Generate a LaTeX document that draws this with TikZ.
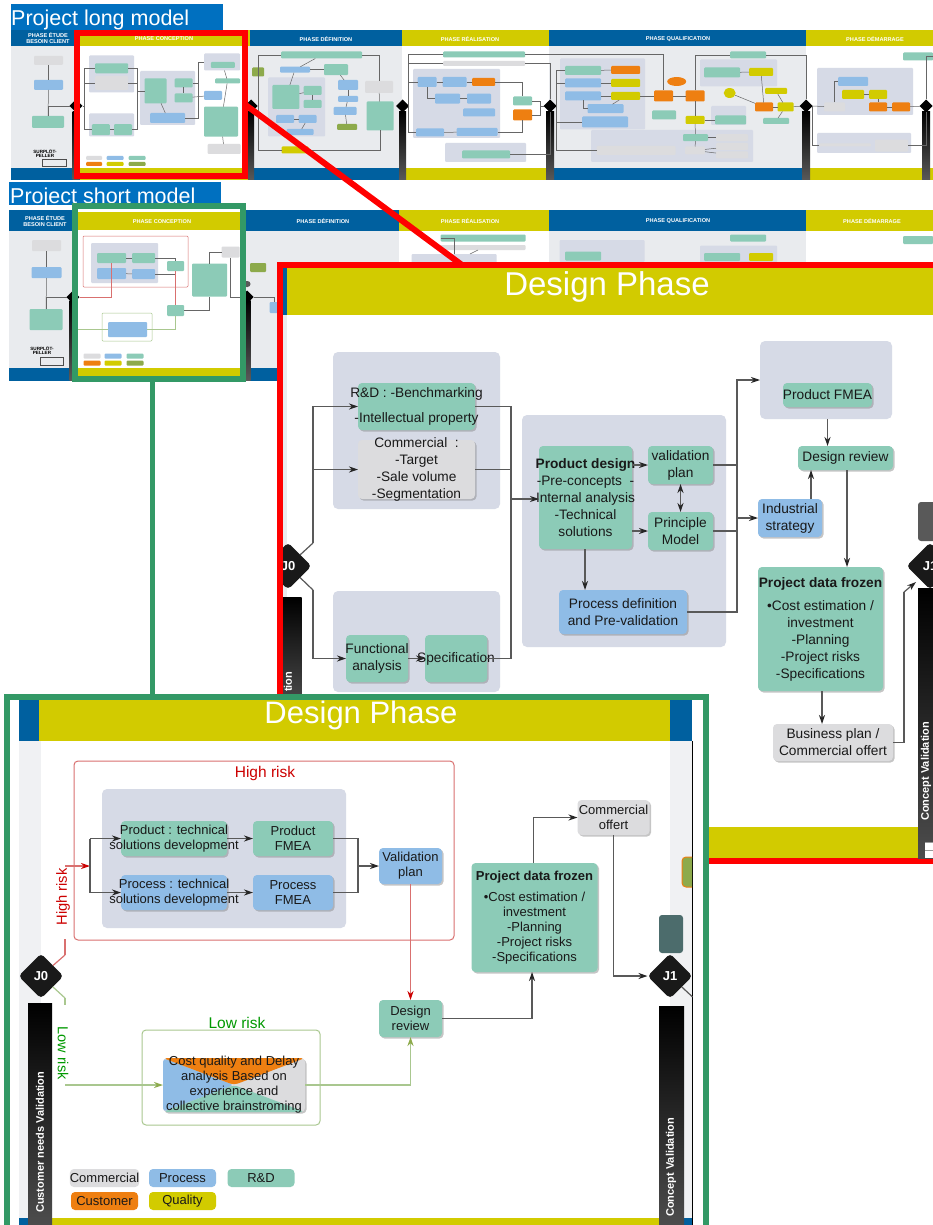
\documentclass[tikz,border=0pt]{standalone}
\usepackage{fontspec}
\setmainfont{Liberation Sans}
\usetikzlibrary{arrows.meta,shadows,shapes.geometric}
\definecolor{rdgreen}{HTML}{8CCBB7}
\definecolor{procblue}{HTML}{8FBCE6}
\definecolor{commgray}{HTML}{DCDCDE}
\definecolor{custorange}{HTML}{EE7F11}
\definecolor{qualyellow}{HTML}{D2CB00}
\definecolor{groupgray}{HTML}{D6DAE6}
\definecolor{phaseblue}{HTML}{00609F}
\definecolor{tabblue}{HTML}{0070C0}
\definecolor{pagegray}{HTML}{E9EBEE}
\definecolor{olive}{HTML}{8DAA4B}
\definecolor{riskred}{HTML}{D9706F}
\definecolor{riskgreen}{HTML}{A9C78F}
\definecolor{framegreen}{HTML}{339966}
\tikzset{
  sz/.style 2 args={minimum width=#1pt,minimum height=#2pt},
  plain/.style={inner sep=0pt,outer sep=0pt,draw=none},
  tgr/.style={plain,rounded corners=1pt,fill=rdgreen},
  tbl/.style={plain,rounded corners=1pt,fill=procblue},
  tgy/.style={plain,rounded corners=1pt,fill=commgray},
  tor/.style={plain,rounded corners=1pt,fill=custorange},
  tye/.style={plain,rounded corners=1pt,fill=qualyellow},
  tol/.style={plain,rounded corners=1pt,fill=olive},
  tgp/.style={plain,rounded corners=1pt,fill=groupgray},
  tj/.style={plain,diamond,aspect=1,fill=black,minimum size=13pt},
  tbar/.style={plain,top color=black,bottom color=gray!70!black},
  tl/.style={draw=black!60,line width=.5pt},
  thead/.style={text=white,font=\fontsize{5.6}{6.4}\bfseries\selectfont,align=center,inner sep=0pt},
  band/.style={plain},
  box/.style={plain,inner sep=-14pt,rounded corners=4pt,align=center,text=black!90,
    drop shadow={opacity=.45,shadow xshift=1.5pt,shadow yshift=-1.5pt}},
  redtxt/.style={font=\fontsize{13.7}{17}\selectfont},
  greentxt/.style={font=\fontsize{13}{15}\selectfont},
  rdbox/.style={box,fill=rdgreen},
  procbox/.style={box,fill=procblue},
  commbox/.style={box,fill=commgray},
  zone/.style={plain,rounded corners=5pt,fill=groupgray},
  flow/.style={draw=black!65,line width=1.2pt,-{Stealth[length=9pt,width=6pt,black!85]}},
  link/.style={draw=black!65,line width=1.2pt},
  redflow/.style={draw=riskred,line width=1.2pt,-{Stealth[length=9pt,width=6pt,red!80!black]}},
  redlink/.style={draw=riskred,line width=1.2pt},
  lowflow/.style={draw=riskgreen,line width=1.2pt,-{Stealth[length=9pt,width=6pt,olive]}},
  lowlink/.style={draw=riskgreen,line width=1.2pt},
  gate/.style={plain,diamond,aspect=1,fill=black!90,rounded corners=4pt,minimum size=47pt,
    text=white,font=\fontsize{13}{13}\bfseries\selectfont},
  gatebar/.style={plain,top color=black,bottom color=black!70},
  gatetop/.style={plain,rounded corners=3pt,fill=black!65},
  barlabel/.style={inner sep=0pt,rotate=90,text=white,font=\fontsize{11}{11}\bfseries\selectfont},
  legend/.style={plain,rounded corners=4pt,font=\fontsize{13}{13}\selectfont,text=black!90,sz={67}{18}},
}
\begin{document}
\begin{tikzpicture}[x=1pt,y=-1pt]
  \useasboundingbox (0,0) rectangle (933,1225);
  \clip (0,0) rectangle (933,1225);

  \node[band,fill=pagegray,sz={922}{122}] (lbody) at (472,107) {};
  \node[band,fill=white,sz={162}{122}] (lbody2) at (161,107) {};
  \node[band,fill=white,sz={147}{122}] (lbody3) at (475.5,107) {};
  \node[band,fill=white,sz={127}{122}] (lbody4) at (869.5,107) {};
  \node[band,fill=phaseblue,sz={69}{16}] (lh1) at (45.5,38) {};
  \node[band,fill=qualyellow,sz={170}{16}] (lh2) at (165,38) {};
  \node[band,fill=phaseblue,sz={152}{16}] (lh3) at (326,38) {};
  \node[band,fill=qualyellow,sz={147}{16}] (lh4) at (475.5,38) {};
  \node[band,fill=phaseblue,sz={257}{16}] (lh5) at (677.5,38) {};
  \node[band,fill=qualyellow,sz={127}{16}] (lh6) at (869.5,38) {};
  \node[band,fill=phaseblue,sz={69}{12}] (lf1) at (45.5,174) {};
  \node[band,fill=qualyellow,sz={170}{12}] (lf2) at (165,174) {};
  \node[band,fill=phaseblue,sz={152}{12}] (lf3) at (326,174) {};
  \node[band,fill=qualyellow,sz={147}{12}] (lf4) at (475.5,174) {};
  \node[band,fill=phaseblue,sz={257}{12}] (lf5) at (677.5,174) {};
  \node[band,fill=qualyellow,sz={127}{12}] (lf6) at (869.5,174) {};
  \node[thead] (lt1) at (48,38) {PHASE ÉTUDE\\BESOIN CLIENT};
  \node[thead] (lt2) at (164,39) {PHASE CONCEPTION};
  \node[thead] (lt3) at (326,39) {PHASE DÉFINITION};
  \node[thead] (lt4) at (470,39) {PHASE RÉALISATION};
  \node[thead] (lt5) at (678,39) {PHASE QUALIFICATION};
  \node[thead] (lt6) at (875,39) {PHASE DÉMARRAGE};

  \node[tgp,sz={45}{37}] (lg1) at (111.7,74) {};
  \node[tgp,sz={45}{23}] (lg2) at (111.7,125) {};
  \node[tgp,sz={55}{54}] (lg3) at (167.5,98) {};
  \node[tgp,sz={36}{17}] (lg4) at (222,62) {};
  \node[tgp,sz={57}{59}] (lg5) at (296.7,107) {};
  \node[tgp,sz={87}{69}] (lg6) at (456.5,103.5) {};
  \node[tgp,sz={81}{19}] (lg7) at (485.5,152.5) {};
  \node[tgp,sz={85}{71}] (lg8) at (602.5,94) {};
  \node[tgp,sz={77}{27}] (lg9) at (738.5,73) {};
  \node[tgp,sz={35}{19}] (lg10) at (728.5,115.5) {};
  \node[tgp,sz={162}{32}] (lg11) at (672,146) {};
  \node[tgp,sz={96}{47}] (lg12) at (865,91.5) {};
  \node[tgp,sz={94}{20}] (lg13) at (864,143) {};

  \node[tgy,sz={29}{9}] (la1) at (48.5,60.5) {};
  \node[tbl,sz={29}{10}] (la2) at (48.5,85) {};
  \node[tgr,sz={32}{12}] (la3) at (48,122) {};
  \node[inner sep=0pt,align=center,font=\fontsize{4.6}{4.6}\bfseries\selectfont] (llogo) at (45,153.5) {SURPLÖT-\\PELLER};
  \node[draw=black!70,line width=.5pt,inner sep=0pt,sz={24}{7}] (llogob) at (54,163) {};

  \node[tgr,sz={33}{10}] (lb1) at (111.7,68.3) {};
  \node[tgy,sz={33}{14}] (lb2) at (111.7,83) {};
  \node[tgr,sz={18}{11}] (lb3) at (100.8,129.7) {};
  \node[tgr,sz={18}{11}] (lb4) at (123,129.7) {};
  \node[tgr,sz={22}{25}] (lb5) at (155.5,90.8) {};
  \node[tgr,sz={18}{9}] (lb6) at (183.5,83) {};
  \node[tgr,sz={18}{9}] (lb7) at (183.5,98) {};
  \node[tbl,sz={35}{10}] (lb8) at (167.5,118) {};
  \node[tgr,sz={24}{6}] (lb9) at (222.8,65) {};
  \node[tgr,sz={25}{5}] (lb10) at (227.5,81) {};
  \node[tbl,sz={18}{9}] (lb11) at (213,95.3) {};
  \node[tgr,sz={34}{30}] (lb12) at (221,121.7) {};
  \node[tgy,sz={33}{10}] (lb13) at (224,149) {};
  \node[tgy,sz={16}{4}] (lk1) at (94,158) {};
  \node[tbl,sz={17}{4}] (lk2) at (115,158) {};
  \node[tgr,sz={17}{4}] (lk3) at (137,158) {};
  \node[tor,sz={16}{4}] (lk4) at (94,164) {};
  \node[tye,sz={17}{4}] (lk5) at (115,164) {};
  \node[tol,sz={17}{4}] (lk6) at (137,164) {};

  \node[tgr,sz={81}{7}] (lc1) at (321.7,55) {};
  \node[tbl,sz={30}{6}] (lc2) at (295,69.7) {};
  \node[tgr,sz={24}{11}] (lc3) at (336,69.7) {};
  \node[tgr,sz={27}{24}] (lc4) at (285.8,97) {};
  \node[tgr,sz={18}{9}] (lc5) at (312.5,90.5) {};
  \node[tgr,sz={18}{8}] (lc6) at (312.5,104) {};
  \node[tbl,sz={18}{8}] (lc7) at (285,119) {};
  \node[tbl,sz={18}{8}] (lc8) at (307.5,119) {};
  \node[tbl,sz={27}{6}] (lc9) at (300,132) {};
  \node[tbl,sz={20}{10}] (lc10) at (348,85) {};
  \node[tbl,sz={20}{6}] (lc11) at (348,99) {};
  \node[tbl,sz={23}{8}] (lc12) at (345,111) {};
  \node[tol,sz={20}{6}] (lc13) at (347,127) {};
  \node[tgy,sz={28}{12}] (lc14) at (379,87) {};
  \node[tgr,sz={27}{29}] (lc15) at (380,116) {};
  \node[tye,sz={27}{7}] (lc16) at (295,150) {};
  \node[tol,sz={12}{9}] (lc17) at (258,72) {};

  \node[tgr,sz={82}{6}] (ld1) at (484,54.5) {};
  \node[tgy,sz={82}{5}] (ld2) at (484,63.5) {};
  \node[tbl,sz={19}{10}] (ld3) at (427,82) {};
  \node[tbl,sz={24}{10}] (ld4) at (454.5,82) {};
  \node[tor,sz={23}{8}] (ld5) at (483.7,82) {};
  \node[tbl,sz={25}{10}] (ld6) at (447.5,98.7) {};
  \node[tbl,sz={24}{10}] (ld7) at (479,98.7) {};
  \node[tbl,sz={32}{8}] (ld8) at (479,112.5) {};
  \node[tbl,sz={28}{8}] (ld9) at (430,132.5) {};
  \node[tbl,sz={41}{8}] (ld10) at (477,132) {};
  \node[tgr,sz={19}{9}] (ld11) at (522.5,101) {};
  \node[tor,sz={19}{11}] (ld12) at (522.5,115) {};
  \node[tgr,sz={48}{8}] (ld13) at (486,154.5) {};

  \node[tgr,sz={36}{9}] (le1) at (583,70.5) {};
  \node[tbl,sz={36}{9}] (le2) at (583,83) {};
  \node[tbl,sz={36}{9}] (le3) at (583,96) {};
  \node[tbl,sz={36}{9}] (le4) at (605.5,108.7) {};
  \node[tbl,sz={46}{11}] (le5) at (605,122) {};
  \node[tor,sz={29}{8}] (le6) at (625.5,70) {};
  \node[tye,sz={29}{8}] (le7) at (625.5,83) {};
  \node[tye,sz={29}{8}] (le8) at (625.5,96) {};
  \node[plain,ellipse,fill=custorange,sz={19}{9}] (le9) at (676.7,81.5) {};
  \node[tor,sz={19}{11}] (le10) at (663.5,96) {};
  \node[tgr,sz={24}{9}] (le11) at (664,115) {};
  \node[tor,sz={19}{11}] (le12) at (695,96) {};
  \node[tye,sz={19}{8}] (le13) at (695,120) {};
  \node[tgr,sz={36}{7}] (le14) at (748,55) {};
  \node[tgr,sz={36}{10}] (le15) at (722,72.5) {};
  \node[tye,sz={24}{8}] (le16) at (761,72) {};
  \node[plain,ellipse,fill=qualyellow,sz={12}{10}] (le17) at (729.7,93) {};
  \node[tor,sz={18}{9}] (le18) at (764,107) {};
  \node[tye,sz={22}{6}] (le19) at (776,91) {};
  \node[tye,sz={16}{9}] (le20) at (785.5,107) {};
  \node[tgr,sz={26}{6}] (le21) at (776,121) {};
  \node[tgr,sz={31}{9}] (le22) at (730.5,120) {};
  \node[tgy,sz={79}{9}] (le23) at (636,150.5) {};
  \node[tgr,sz={25}{7}] (le24) at (695.5,137.7) {};
  \node[tgy,sz={20}{8}] (le25) at (695,150.5) {};
  \node[tgy,sz={32}{7}] (le26) at (732,137.7) {};
  \node[tgy,sz={32}{7}] (le27) at (732,146.5) {};
  \node[tgy,sz={32}{7}] (le28) at (732,155) {};

  \node[tgr,sz={30}{8}] (lm1) at (918,56.5) {};
  \node[tbl,sz={30}{9}] (lm2) at (853,81.5) {};
  \node[tgy,sz={21}{9}] (lm3) at (834.5,107) {};
  \node[tye,sz={22}{9}] (lm4) at (853,94.5) {};
  \node[tye,sz={18}{9}] (lm5) at (878,94.5) {};
  \node[tor,sz={18}{9}] (lm6) at (878,107) {};
  \node[tor,sz={18}{9}] (lm7) at (901,107) {};
  \node[tgy,sz={33}{12}] (lm8) at (891.5,145.7) {};
  \node[tgy,sz={52}{3}] (lm9) at (845,145) {};

  \node[tbar,sz={7}{68}] (lv1) at (76,146) {};
  \node[tbar,sz={6}{68}] (lv2) at (251,146) {};
  \node[tbar,sz={7}{68}] (lv3) at (402.5,146) {};
  \node[tbar,sz={8}{68}] (lv4) at (550,146) {};
  \node[tbar,sz={8}{68}] (lv5) at (806,146) {};
  \node[tbar,sz={8}{68}] (lv6) at (926,146) {};
  \node[tj] (lJ0) at (76,106) {};
  \node[tj] (lJ1) at (251,106) {};
  \node[tj] (lJ2) at (402.5,106) {};
  \node[tj] (lJ3) at (550,106) {};
  \node[tj] (lJ4) at (806,106) {};
  \node[tj] (lJ5) at (926,106) {};

  \coordinate (lp1) at (84,106);
  \coordinate (lp2) at (137,90.8);
  \coordinate (lp3) at (198,62);
  \coordinate (lp4) at (258,106);
  \coordinate (lp5) at (408,106);
  \coordinate (lp6) at (540,106);
  \coordinate (lp7) at (556,106);
  \coordinate (lp10) at (812,106);
  \draw[tl] (la1) to (la2);
  \draw[tl] (la2) to (la3);
  \draw[tl] (la3) |- (lJ0);
  \draw[tl] (lJ0) to (lp1);
  \draw[tl] (lp1) |- (lb1);
  \draw[tl] (lp1) |- (lb2);
  \draw[tl] (lp1) |- (lb3);
  \draw[tl] (lb3) to (lb4);
  \draw[tl] (lb1) -| (lp2);
  \draw[tl] (lb2) -| (lp2);
  \draw[tl] (lb4) -| (lp2);
  \draw[tl] (lp2) to (lb5);
  \draw[tl] (lb6) to (lb7);
  \draw[tl] (lb5) to (lb8);
  \draw[tl] (lb6) -| (lp3);
  \draw[tl] (lp3) to (lg4);
  \draw[tl] (lb8) -| (lp3);
  \draw[tl] (lb7) to (lb11);
  \draw[tl] (lg4) to (lb10);
  \draw[tl] (lb10) to (lb12);
  \draw[tl] (lb12) to (lb13);
  \draw[tl] (lJ1) to (lp4);
  \draw[tl] (lp4) |- (lc1);
  \draw[tl] (lp4) |- (lc16);
  \draw[tl] (lc1) to (lc2);
  \draw[tl] (lc2) to (lc3);
  \draw[tl] (lc2) to (lc4);
  \draw[tl] (lc4) to (lc5);
  \draw[tl] (lc5) to (lc6);
  \draw[tl] (lc7) to (lc8);
  \draw[tl] (lc8) to (lc9);
  \draw[tl] (lc3) to (lc10);
  \draw[tl] (lc10) to (lc11);
  \draw[tl] (lc11) to (lc12);
  \draw[tl] (lc12) to (lc13);
  \draw[tl] (lc1) -| (lc14);
  \draw[tl] (lc14) to (lc15);
  \draw[tl] (lc16) -| (lc15);
  \draw[tl] (lp5) |- (ld1);
  \draw[tl] (lp5) |- (ld2);
  \draw[tl] (lJ2) to (lp5);
  \draw[tl] (lp5) |- (ld9);
  \draw[tl] (lp5) |- (ld3);
  \draw[tl] (ld3) to (ld4);
  \draw[tl] (ld4) to (ld5);
  \draw[tl] (ld3) |- (ld6);
  \draw[tl] (ld6) to (ld7);
  \draw[tl] (ld9) to (ld10);
  \draw[tl] (ld5) -| (ld11);
  \draw[tl] (ld10) -| (ld12);
  \draw[tl] (ld11) -| (lp6);
  \draw[tl] (ld12) -| (lp6);
  \draw[tl] (lp6) to (lJ3);
  \draw[tl] (ld2) -| (lJ3);
  \draw[tl] (ld13) -| (lJ3);
  \draw[tl] (lJ3) to (lp7);
  \draw[tl] (lp7) |- (le1);
  \draw[tl] (lp7) |- (le2);
  \draw[tl] (lp7) |- (le5);
  \draw[tl] (lp7) |- (le23);
  \draw[tl] (le3) |- (le4);
  \draw[tl] (le4) to (le8);
  \draw[tl] (le1) to (le6);
  \draw[tl] (le2) to (le7);
  \draw[tl] (le3) to (le8);
  \draw[tl] (le8) to (le10);
  \draw[tl] (le10) to (le12);
  \draw[tl] (ld1) -| (le10);
  \draw[tl] (le12) to (le13);
  \draw[tl] (le13) to (le22);
  \draw[tl] (le13) to (le24);
  \draw[tl] (le24) to (le25);
  \draw[tl] (le24) to (le26);
  \draw[tl] (le25) to (le27);
  \draw[tl] (le25) to (le28);
  \draw[tl] (le12) |- (le14);
  \draw[tl] (le14) -| (lJ4);
  \draw[tl] (le15) to (le16);
  \draw[tl] (le16) to (le18);
  \draw[tl] (le17) to (le18);
  \draw[tl] (le18) to (le20);
  \draw[tl] (le19) to (le20);
  \draw[tl] (le20) to (lJ4);
  \draw[tl] (le20) to (le21);
  \draw[tl] (lJ4) to (lp10);
  \draw[tl] (lp10) to (lm3);
  \draw[tl] (lp10) |- (lm9);
  \draw[tl] (lm3) |- (lm2);
  \draw[tl] (lm4) to (lm5);
  \draw[tl] (lm5) to (lm6);
  \draw[tl] (lm6) to (lm7);
  \draw[tl] (lm7) to (lJ5);
  \draw[tl] (lm8) -| (lJ5);
  \draw[tl] (lm1) -| (lJ5);

  \node[band,fill=pagegray,sz={924}{138}] (sbody) at (471,299) {};
  \node[band,fill=white,sz={150}{138}] (sbody3) at (474,299) {};
  \node[band,fill=white,sz={127}{138}] (sbody4) at (869.5,299) {};
  \node[band,fill=phaseblue,sz={69}{21}] (sh1) at (43.5,220) {};
  \node[band,fill=phaseblue,sz={159}{21}] (sh3) at (319.5,220) {};
  \node[band,fill=qualyellow,sz={150}{21}] (sh4) at (474,220) {};
  \node[band,fill=phaseblue,sz={257}{21}] (sh5) at (677.5,220) {};
  \node[band,fill=qualyellow,sz={127}{21}] (sh6) at (869.5,220) {};
  \node[band,fill=phaseblue,sz={270}{13}] (sf1) at (144,374.5) {};
  \node[band,fill=white,sz={162}{138}] (sbody2) at (159,299) {};
  \node[band,fill=qualyellow,sz={162}{18}] (sh2) at (159,221) {};
  \node[band,fill=qualyellow,sz={162}{13}] (sf2) at (159,374.5) {};
  \node[thead] (st1) at (45,221) {PHASE ÉTUDE\\BESOIN CLIENT};
  \node[thead] (st2) at (162,221.5) {PHASE CONCEPTION};
  \node[thead] (st3) at (323,221.5) {PHASE DÉFINITION};
  \node[thead] (st4) at (470,221.5) {PHASE RÉALISATION};
  \node[thead] (st5) at (678,221.5) {PHASE QUALIFICATION};
  \node[thead] (st6) at (872,221.5) {PHASE DÉMARRAGE};

  \node[tgy,sz={29}{11}] (sa1) at (46.5,245.5) {};
  \node[tbl,sz={30}{11}] (sa2) at (46.5,272.5) {};
  \node[tgr,sz={33}{21}] (sa3) at (46,319.5) {};
  \node[inner sep=0pt,align=center,font=\fontsize{4.6}{4.6}\bfseries\selectfont] (slogo) at (42,350.5) {SURPLÖT-\\PELLER};
  \node[draw=black!70,line width=.5pt,inner sep=0pt,sz={23}{8}] (slogob) at (52,361.5) {};

  \node[plain,draw=riskred,line width=.5pt,rounded corners=1pt,sz={105}{51}] (sr1) at (135.5,261.5) {};
  \node[tgp,sz={67}{40}] (sg1) at (124.5,263) {};
  \node[tgr,sz={29}{10}] (sb1) at (111.5,258) {};
  \node[tbl,sz={29}{11}] (sb2) at (111.5,273.5) {};
  \node[tgr,sz={23}{10}] (sb3) at (143.5,258) {};
  \node[tbl,sz={23}{10}] (sb4) at (143.5,274) {};
  \node[tgr,sz={17}{10}] (sb5) at (175.5,266) {};
  \node[tgr,sz={35}{33}] (sb6) at (209.5,280) {};
  \node[tgy,sz={18}{11}] (sb7) at (230.5,252) {};
  \node[tgr,sz={17}{11}] (sb8) at (175.5,310.5) {};
  \node[plain,draw=riskgreen,line width=.5pt,rounded corners=1pt,sz={50}{28}] (sr2) at (127,327) {};
  \node[tbl,sz={39}{15}] (sb9) at (127.5,329.5) {};
  \node[tgy,sz={17}{5}] (sk1) at (92,356) {};
  \node[tbl,sz={17}{5}] (sk2) at (113,356) {};
  \node[tgr,sz={17}{5}] (sk3) at (135,356) {};
  \node[tor,sz={17}{5}] (sk4) at (92,363) {};
  \node[tye,sz={17}{5}] (sk5) at (113,363) {};
  \node[tol,sz={17}{5}] (sk6) at (135,363) {};
  \node[tol,sz={16}{9}] (sc1) at (258,267.5) {};
  \node[tbl,sz={9}{11}] (sc2) at (274,307.5) {};

  \node[tbar,sz={7}{80}] (sv1) at (73,340) {};
  \node[tbar,sz={7}{80}] (sv2) at (247,340) {};
  \node[gatetop,sz={7}{6}] (sv2t) at (247,284) {};
  \node[tj] (sJ0) at (73,297) {};
  \node[tj] (sJ1) at (247,297) {};
  \node[tgr,sz={85}{7}] (sd1) at (483,238) {};
  \node[tgy,sz={85}{5}] (sd2) at (483,247.5) {};
  \node[tgp,sz={85}{16}] (sd3) at (454,262) {};
  \node[tgr,sz={36}{7}] (se1) at (748,238) {};
  \node[tgp,sz={85}{22}] (se2) at (602,251) {};
  \node[tgr,sz={36}{9}] (se3) at (583,256) {};
  \node[tgp,sz={77}{17}] (se4) at (738.5,254) {};
  \node[tgr,sz={36}{8}] (se5) at (722,257) {};
  \node[tye,sz={24}{8}] (se6) at (761,257) {};
  \node[tgr,sz={30}{8}] (sm1) at (918,240) {};

  \draw[tl] (sa1) to (sa2);
  \draw[tl] (sa2) to (sa3);
  \draw[tl] (sa3.north) |- (sJ0);
  \draw[tl] (sb1) to (sb3);
  \draw[tl] (sb2) to (sb4);
  \draw[tl] (sb3) -| (sb5);
  \draw[tl] (sb4) -| (sb5);
  \draw[draw=riskred,line width=.5pt] (sb5) to (sb8);
  \draw[tl] (sb8) -| (sb6);
  \draw[tl] (sb6) |- (sb7);
  \draw[draw=riskred,line width=.5pt] (sJ0) -| (sb1);
  \draw[draw=riskgreen,line width=.5pt] (sJ0) |- (sb9);
  \draw[draw=riskgreen,line width=.5pt] (sb9) -| (sb8);
  \draw[tl] (sb7) |- (sJ1);
  \draw[tl] (sJ1) -| (sc2);
  \draw[tl] (sd1) -| (sd3);
  \draw[tl] (sd2) to (sd3);

  \node[plain,fill=tabblue,sz={212}{26}] (longtab) at (117,17) {};
  \node[inner sep=0pt,anchor=west,text=white,font=\fontsize{21.5}{22}\selectfont] (longtitle) at (11,20) {Project long model};
  \node[plain,fill=tabblue,sz={212}{23}] (shorttab) at (115,193.5) {};
  \node[inner sep=0pt,anchor=west,text=white,font=\fontsize{21.5}{22}\selectfont] (shorttitle) at (10,198) {Project short model};

  \node[plain,draw=red,line width=6pt,sz={168}{143}] (redzoom) at (161,104.5) {};
  \node[plain,draw=framegreen,line width=6pt,sz={168}{173}] (greenzoom) at (159,292.5) {};

  \coordinate (redend) at (462,265);
  \coordinate (greenend) at (152,698);
  \draw[draw=red,line width=6pt] (redzoom.east) to (redend);
  \draw[draw=framegreen,line width=5pt] (greenend |- greenzoom.south) to (greenend);

  \node[plain,fill=white,draw=red,line width=6pt,sz={680}{596}] (redpanel) at (620,563) {};
  \begin{scope}
    \clip (283,268) rectangle (933,858);
    \node[band,fill=pagegray,sz={4}{590}] (rleft) at (285,563) {};
    \node[band,fill=phaseblue,sz={4}{47}] (rbluetop) at (285,291.5) {};
    \node[band,fill=qualyellow,sz={646}{47}] (rhead) at (610,291.5) {};
    \node[band,fill=qualyellow,sz={640}{31}] (rfoot) at (603,842.5) {};
    \node[inner sep=0pt,text=white,font=\fontsize{33}{33}\selectfont] (rtitle) at (607,287) {Design Phase};
    \node[zone,sz={167}{157}] (rz1) at (416.5,430.5) {};
    \node[zone,sz={167}{101}] (rz2) at (416.5,641.5) {};
    \node[zone,sz={204}{232}] (rz3) at (624,531) {};
    \node[zone,sz={132}{78}] (rz4) at (826,380) {};
    \node[rdbox,redtxt,sz={117}{47}] (rrd) at (416.5,406.5) {R\&D : -Benchmarking\\[8pt]-Intellectual property};
    \node[commbox,redtxt,sz={117}{59}] (rcom) at (416.5,469.5) {Commercial~~:\\-Target\\-Sale volume\\-Segmentation};
    \node[rdbox,redtxt,sz={62}{47}] (rfun) at (377,658.5) {Functional\\analysis};
    \node[rdbox,redtxt,sz={62}{47}] (rspe) at (456,658.5) {Specification};
    \node[rdbox,redtxt,sz={93}{103}] (rpd) at (585.5,497.5) {\textbf{Product design}\\-Pre-concepts~~-\\Internal analysis\\-Technical\\solutions};
    \node[rdbox,redtxt,sz={65}{38}] (rval) at (680.5,465) {validation\\plan};
    \node[rdbox,redtxt,sz={65}{38}] (rpri) at (680.5,531) {Principle\\Model};
    \node[procbox,redtxt,sz={128}{44}] (rpro) at (623,612) {Process definition\\and Pre-validation};
    \node[rdbox,redtxt,sz={89}{24}] (rfme) at (827.5,395) {Product FMEA};
    \node[rdbox,redtxt,sz={95}{24}] (rdes) at (845.5,458) {Design review};
    \node[procbox,redtxt,sz={64}{38}] (rind) at (790,518) {Industrial\\strategy};
    \node[rdbox,redtxt,sz={125}{124}] (rfro) at (820.5,629) {\textbf{Project data frozen}\\[6pt]•Cost estimation /\\investment\\-Planning\\-Project risks\\-Specifications};
    \node[commbox,redtxt,sz={120}{37}] (rbiz) at (833,742.5) {Business plan /\\Commercial offert};
    \node[gatebar,sz={29}{110}] (rbar0) at (287,652) {};
    \node[barlabel,anchor=west] (rlab0) at (288,692) {tion};
    \node[gate] (rJ0) at (288,566) {J0};
    \node[gatetop,sz={30}{39}] (rtop1) at (933,521.5) {};
    \node[gatebar,sz={30}{270}] (rbar1) at (933,723) {};
    \node[barlabel,anchor=west] (rlab1) at (926,821) {Concept Validation};
    \node[gate] (rJ1) at (930,566) {J1};
    \node[plain,fill=white,sz={10}{16}] (rgrid) at (930,850) {};
    \draw[draw=black!40,line width=.5pt] (rgrid.west) to (rgrid.east);
    \draw[draw=black!40,line width=.5pt] (rgrid.north west) to (rgrid.north east);
    \coordinate (rup) at (313,543);
    \coordinate (rdown) at (313,590);
    \coordinate (rbus) at (511,499);
    \coordinate (rmid) at (737,518);
    \coordinate (rturn) at (904,592);
    \draw[link] (rJ0) to (rup);
    \draw[flow] (rup) |- (rrd.west);
    \draw[flow] (rup |- rcom.west) to (rcom.west);
    \draw[link] (rJ0) to (rdown);
    \draw[flow] (rdown) |- (rfun.west);
    \draw[flow] (rfun) to (rspe);
    \draw[link] (rrd.east) -| (rbus);
    \draw[link] (rcom.east) -| (rbus);
    \draw[link] (rspe.east) -| (rbus);
    \draw[flow] (rbus) to (rbus -| rpd.west);
    \draw[flow] (rpd.east |- rval.west) to (rval.west);
    \draw[flow] (rpd.east |- rpri.west) to (rpri.west);
    \draw[draw=black!65,line width=1.2pt,{Stealth[length=9pt,width=6pt,black!85]}-{Stealth[length=9pt,width=6pt,black!85]}] (rval) to (rpri);
    \draw[flow] (rpd.south -| 585,0) to (585,590);
    \draw[link] (rval.east) -| (rmid);
    \draw[link] (rpri.east) -| (rmid);
    \draw[link] (rpro.east) -| (rmid);
    \draw[flow] (rmid) |- (rz4.west);
    \draw[flow] (rmid) to (rind.west);
    \draw[flow] (rfme.south |- rz4.south) to (rfme.south |- rdes.north);
    \draw[flow] (rind.north -| 811,0) to (rdes.south -| 811,0);
    \draw[flow] (rdes.south -| 847,0) to (rfro.north -| 847,0);
    \draw[flow] (rfro.south -| 822,0) to (rbiz.north -| 822,0);
    \draw[link] (rbiz.east) -| (rturn);
    \draw[flow] (rturn) to (916,582);
  \end{scope}

  \node[plain,fill=white,draw=framegreen,line width=6pt,sz={699}{620}] (greenpanel) at (356.5,1007) {};
  \node[band,fill=pagegray!70!white,sz={22}{478}] (gleft) at (30,980) {};
  \node[band,fill=pagegray!70!white,sz={22}{478}] (gright) at (681,980) {};
  \node[band,fill=phaseblue,sz={20}{41}] (gbluel) at (29,720.5) {};
  \node[band,fill=phaseblue,sz={22}{41}] (gbluer) at (681,720.5) {};
  \node[band,fill=qualyellow,sz={631}{41}] (ghead) at (354.5,720.5) {};
  \node[band,fill=qualyellow,sz={632}{7}] (gfoot) at (355,1221.5) {};
  \node[band,fill=phaseblue,sz={9}{7}] (gbluebl) at (23.5,1221.5) {};
  \node[band,fill=phaseblue,sz={10}{7}] (gbluebr) at (687,1221.5) {};
  \node[inner sep=0pt,text=white,font=\fontsize{31}{31}\selectfont] (gtitle) at (361,715) {Design Phase};
  \coordinate (gedgetop) at (692.6,741);
  \coordinate (gedgebot) at (692.6,1225);
  \draw[draw=black,line width=.8pt] (gedgetop) to (gedgebot);

  \node[plain,draw=riskred,line width=1pt,rounded corners=4pt,sz={380}{179}] (ghigh) at (264,850.5) {};
  \node[inner sep=0pt,text=red!80!black,font=\fontsize{15.5}{15.5}\selectfont] (ghighlab) at (265,773) {High risk};
  \node[zone,sz={244}{139}] (gz1) at (224,858.5) {};
  \node[plain,draw=riskgreen,line width=1pt,rounded corners=4pt,sz={178}{95}] (glow) at (231,1077.5) {};
  \node[inner sep=0pt,text=green!60!black,font=\fontsize{15.5}{15.5}\selectfont] (glowlab) at (237,1023) {Low risk};
  \node[rdbox,greentxt,sz={106}{35}] (gpt) at (174,838.5) {Product : technical\\solutions development};
  \node[procbox,greentxt,sz={106}{35}] (gpc) at (174,892.5) {Process : technical\\solutions development};
  \node[rdbox,greentxt,sz={80}{35}] (gpf) at (293,838.5) {Product\\FMEA};
  \node[procbox,greentxt,sz={80}{35}] (gcf) at (293,892.5) {Process\\FMEA};
  \node[procbox,greentxt,sz={63}{36}] (gval) at (410.5,866) {Validation\\plan};
  \node[rdbox,greentxt,sz={126}{109}] (gfro) at (534.5,917.5) {\textbf{Project data frozen}\\[6pt]•Cost estimation /\\investment\\-Planning\\-Project risks\\-Specifications};
  \node[commbox,greentxt,sz={72}{35}] (gcom) at (613.5,817.5) {Commercial\\offert};
  \node[rdbox,greentxt,sz={63}{37}] (gdes) at (410.5,1018.5) {Design\\review};
  \node[commbox,greentxt,sz={142}{54},
    path picture={
      \fill[procblue] (path picture bounding box.north west) -- (path picture bounding box.center) -- (path picture bounding box.south west) -- cycle;
      \fill[custorange] (path picture bounding box.north west) -- (path picture bounding box.center) -- (path picture bounding box.north east) -- cycle;
      \fill[rdgreen] (path picture bounding box.south west) -- (path picture bounding box.center) -- (path picture bounding box.south east) -- cycle;
    }] (gmix) at (234,1085) {Cost quality and Delay\\analysis Based on\\experience and\\collective brainstroming};
  \node[gatetop,fill=black!65!teal!70,sz={24}{38}] (gtop1) at (671,934) {};
  \node[gatebar,sz={24}{222}] (gbar0) at (40,1114) {};
  \node[gatebar,sz={25}{219}] (gbar1) at (671.5,1115.5) {};
  \node[barlabel,anchor=west] (glab0) at (40,1213) {Customer needs Validation};
  \node[barlabel,anchor=west] (glab1) at (671,1217) {Concept Validation};
  \node[gate,minimum size=45pt] (gJ0) at (41,976) {J0};
  \node[gate,minimum size=45pt] (gJ1) at (670,976) {J1};
  \node[inner sep=0pt,rotate=90,text=red!80!black,font=\fontsize{14.7}{14.7}\selectfont] (ghighv) at (63,897) {High risk};
  \node[inner sep=0pt,rotate=-90,text=green!60!black,font=\fontsize{14.5}{14.5}\selectfont] (glowv) at (63,1053) {Low risk};
  \node[legend,fill=commgray] (gk1) at (104.5,1178) {Commercial};
  \node[legend,fill=procblue] (gk2) at (182.5,1178) {Process};
  \node[legend,fill=rdgreen] (gk3) at (261,1178) {R\&D};
  \node[legend,fill=custorange] (gk4) at (104.5,1201) {Customer};
  \node[legend,fill=qualyellow] (gk5) at (182.5,1201) {Quality};
  \begin{scope}
    \clip (671,741) rectangle (692,1000);
    \node[plain,fill=olive,draw=custorange,line width=1pt,rounded corners=4pt,sz={30}{30}] (gstub) at (697,872) {};
  \end{scope}

  \coordinate (gr1) at (65,955);
  \coordinate (gr2) at (65,939);
  \coordinate (gr3) at (65,866);
  \coordinate (gjoin) at (90,866);
  \coordinate (gmerge) at (358,866);
  \coordinate (gg1) at (65,998);
  \coordinate (gg2) at (65,1005);
  \coordinate (gg3) at (65,1085);
  \coordinate (gout) at (692.6,997);
  \draw[redlink] (gJ0) to (gr1);
  \draw[redlink] (gr1) to (gr2);
  \draw[redflow] (gr3) to (gjoin);
  \draw[link] (gjoin) to (gjoin |- gpt.west);
  \draw[link] (gjoin) to (gjoin |- gpc.west);
  \draw[flow] (gjoin |- gpt.west) to (gpt.west);
  \draw[flow] (gjoin |- gpc.west) to (gpc.west);
  \draw[flow] (gpt) to (gpf);
  \draw[flow] (gpc) to (gcf);
  \draw[link] (gpf.east) -| (gmerge);
  \draw[link] (gcf.east) -| (gmerge);
  \draw[flow] (gmerge) to (gval.west);
  \draw[redflow] (gval) to (gdes);
  \draw[flow] (gdes.east) -| (gfro.south -| 532,0);
  \draw[flow] (gfro.north -| 533.6,0) |- (gcom.west);
  \draw[flow] (gcom.south) |- (gJ1.west);
  \draw[link] (gJ1) to (gout);
  \draw[lowlink] (gJ0) to (gg1);
  \draw[lowlink] (gg1) to (gg2);
  \draw[lowflow] (gg3) to (gmix.west);
  \draw[lowflow] (gmix.east) -| (gdes.south);
\end{tikzpicture}
\end{document}
